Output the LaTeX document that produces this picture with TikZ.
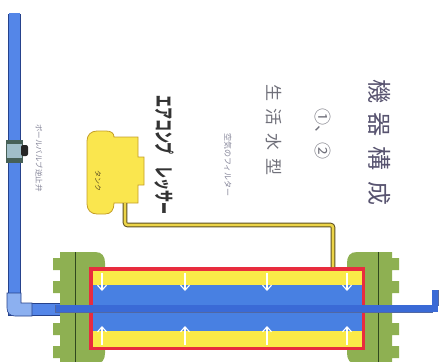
\documentclass[tikz,border=0pt]{standalone}
\usepackage{fontspec}
\usepackage{graphicx}
\newfontfamily\jp{Noto Sans CJK JP}
\usetikzlibrary{arrows.meta}

\definecolor{pipeblue}{RGB}{84,134,232}
\definecolor{pipeedge}{RGB}{38,66,140}
\definecolor{elbowblue}{RGB}{140,176,240}
\definecolor{coreblue}{RGB}{72,128,226}
\definecolor{barblue}{RGB}{58,106,214}
\definecolor{jacket}{RGB}{250,234,72}
\definecolor{shell}{RGB}{232,44,62}
\definecolor{flange}{RGB}{142,176,82}
\definecolor{flangeline}{RGB}{48,72,30}
\definecolor{tankfill}{RGB}{250,230,78}
\definecolor{tankedge}{RGB}{196,158,40}
\definecolor{airfill}{RGB}{236,212,72}
\definecolor{airedge}{RGB}{92,78,32}
\definecolor{valvebody}{RGB}{160,190,200}
\definecolor{valveend}{RGB}{70,96,86}
\definecolor{titleink}{RGB}{88,84,112}
\definecolor{labelink}{RGB}{112,112,122}
\definecolor{smallink}{RGB}{130,130,150}

\tikzset{
  vlabel/.style={rotate=-90, inner sep=0pt, font=\jp},
  flowarrow/.style={white, line width=1.1pt, -{Straight Barb[width=9pt,length=5pt,line width=1.1pt]}},
}

\begin{document}
\begin{tikzpicture}[x=1pt,y=-1pt]
\useasboundingbox (0,0) rectangle (443,361);
\clip (0,0) rectangle (443,361);

% ---- end flanges ----
\fill[flange] (60,252) -- (95,252) .. controls (102,252) and (105,256) .. (105,263)
  -- (105,353) .. controls (105,360) and (102,364) .. (95,364) -- (60,364)
  -- (60,358) -- (53,358) -- (53,346) -- (60,346) -- (60,335) -- (53,335) -- (53,323) -- (60,323)
  -- (60,293) -- (53,293) -- (53,281) -- (60,281) -- (60,270) -- (53,270) -- (53,258) -- (60,258) -- cycle;
\fill[flange] (392,252) -- (357,252) .. controls (350,252) and (347,256) .. (347,263)
  -- (347,353) .. controls (347,360) and (350,364) .. (357,364) -- (392,364)
  -- (392,358) -- (399,358) -- (399,346) -- (392,346) -- (392,335) -- (399,335) -- (399,323) -- (392,323)
  -- (392,293) -- (399,293) -- (399,281) -- (392,281) -- (392,270) -- (399,270) -- (399,258) -- (392,258) -- cycle;
\draw[flangeline, line width=1pt] (75,252) -- (75,364);
\draw[flangeline, line width=1pt] (378,252) -- (378,364);

% ---- cylinder: shell, air jacket, water core ----
\fill[shell] (89,267) rectangle (365,350);
\fill[jacket] (92.5,270.5) rectangle (361.5,346.5);
\fill[coreblue] (92.5,285) rectangle (361.5,331);

% ---- water pipe ----
\coordinate (inlet) at (14,14);
\coordinate (bend) at (14,309);
\coordinate (outlet) at (435,290);
\draw[pipeedge, line width=13pt] (inlet) -- (bend) -- (60,309);
\draw[pipeblue, line width=11pt] ([yshift=1pt]inlet) -- (bend) -- (60,309);
\fill[barblue, draw=pipeedge!80, line width=0.4pt] (55,305) -- (438,305) -- (438,290) -- (432,290) -- (432,312.5) -- (55,312.5) -- cycle;
\fill[barblue] (56,305.3) rectangle (437.6,312.2);
\fill[barblue] (432.4,290.4) rectangle (437.6,312.2);
% elbow fitting
\fill[elbowblue, draw=pipeedge, line width=0.6pt] (7,293) -- (21,293) -- (21,303) -- (32,303) -- (32,316) -- (15,316) .. controls (10,316) and (7,313) .. (7,308) -- cycle;
% check valve on the riser
\fill[valvebody, draw=valveend, line width=0.6pt] (6,140) rectangle (22,162);
\fill[valveend] (6,140) rectangle (22,144);
\fill[valveend] (6,158) rectangle (22,162);
\fill[black!85, rounded corners=2pt] (21,145) rectangle (28,156);

% ---- flow arrows inside the cylinder ----
\foreach \ax in {102,185,267,347} {
  \draw[flowarrow] (\ax,273) -- (\ax,291);
  \draw[flowarrow] (\ax,345) -- (\ax,326);
}

% ---- air tank ----
\filldraw[fill=tankfill, draw=tankedge, line width=0.8pt]
  (87,141) .. controls (87,135) and (91,131) .. (97,131) -- (106,131)
  .. controls (111,131) and (114,133) .. (114,137) -- (138,137) -- (138,157) -- (144,157)
  -- (144,185) -- (138,185) -- (138,203) -- (114,203)
  .. controls (114,210) and (111,214) .. (105,214) -- (97,214)
  .. controls (91,214) and (87,210) .. (87,204) -- cycle;
\coordinate (tankout) at (125,203);
\coordinate (shellin) at (333,267);
\node[vlabel, font=\jp\fontsize{7}{7}\selectfont, text=airedge] (tanklabel) at (98,181) {タンク};

% ---- air line from tank to the jacket ----
\draw[airedge, line width=4.6pt, rounded corners=2.5pt] (tankout) -- ++(0,22) -| (shellin);
\draw[airfill, line width=2.6pt, rounded corners=2.5pt] (tankout) -- ++(0,22) -| (shellin);

% ---- labels ----
\node[vlabel, font=\jp\fontsize{24}{24}\selectfont, text=titleink] (title) at (380,142)
  {機\kern10pt 器\kern10pt 構\kern10pt 成};
\node[vlabel, font=\jp\fontsize{17}{17}\selectfont, text=labelink] (units) at (323,134) {①、②};
\node[vlabel, font=\jp\fontsize{17}{17}\selectfont, text=labelink] (kind) at (274,130)
  {生\kern8pt 活\kern8pt 水\kern8pt 型};
\node[vlabel, font=\jp\fontsize{8}{8}\selectfont, text=smallink] (filter) at (228,165) {空気のフィルター};
\node[vlabel, text=black!80] (compressor) at (164,155)
  {\scalebox{0.6}[1]{\fontsize{20}{20}\selectfont\bfseries エアコンプ\kern20pt レッサー}};
\node[vlabel, font=\jp\fontsize{7.5}{7.5}\selectfont, text=smallink] (valvelabel) at (39,158) {ボールバルブ逆止弁};
\end{tikzpicture}
\end{document}
